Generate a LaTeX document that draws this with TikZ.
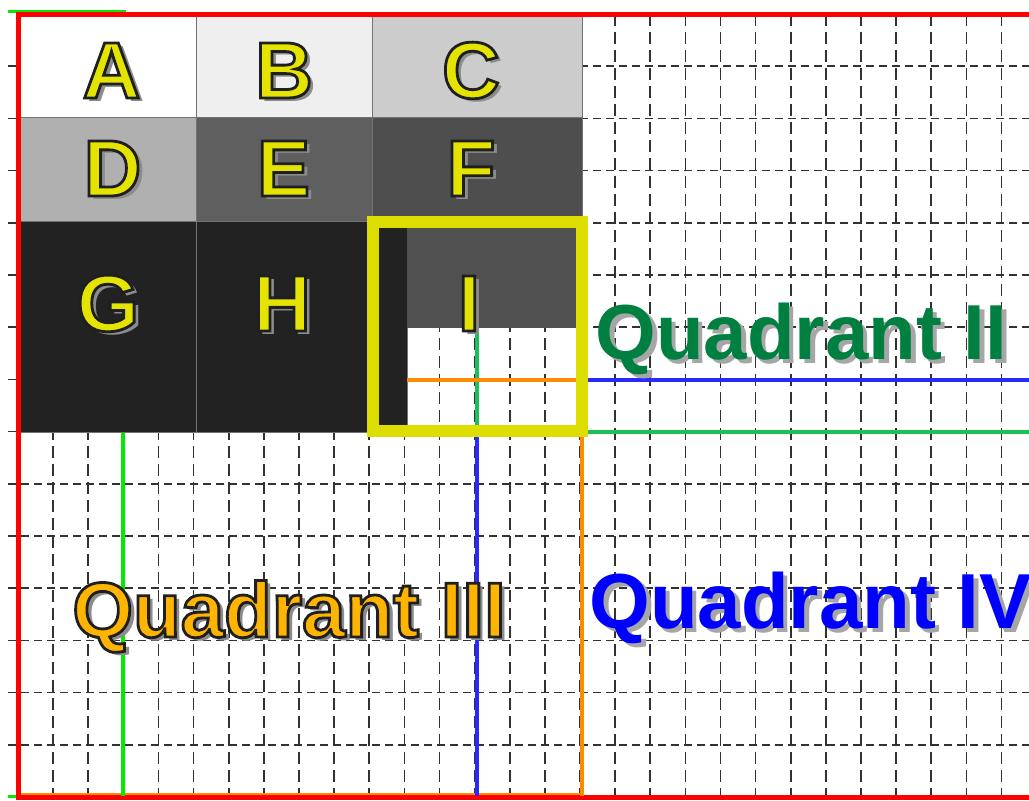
\documentclass[tikz,border=0pt]{standalone}
\usepackage{fontspec}
\setmainfont{Liberation Sans}
\definecolor{lyel}{RGB}{228,228,0}
\definecolor{fyel}{RGB}{221,221,0}
\definecolor{qgreen}{RGB}{0,128,64}
\definecolor{qblue}{RGB}{0,0,255}
\definecolor{qorange}{RGB}{255,180,0}
\definecolor{brgreen}{RGB}{0,235,0}
\definecolor{tgreen}{RGB}{30,190,90}
\definecolor{lorange}{RGB}{255,140,0}
\definecolor{lblue}{RGB}{40,40,255}
\definecolor{gridc}{RGB}{50,50,50}
\definecolor{cB}{RGB}{239,239,239}
\definecolor{cC}{RGB}{204,204,204}
\definecolor{cD}{RGB}{176,176,176}
\definecolor{cE}{RGB}{95,95,95}
\definecolor{cF}{RGB}{78,78,78}
\definecolor{cG}{RGB}{34,34,34}
\definecolor{cI}{RGB}{80,80,80}
\newcommand\outlined[1]{\special{pdf:literal direct 2 Tr 0.12 0.12 0.12 RG 1.4 w}#1\special{pdf:literal direct 0 Tr}}
\begin{document}
\begin{tikzpicture}[x=0.5pt,y=-0.5pt,
  vgrid/.style={draw=gridc, line width=0.8pt, dash pattern=on 6pt off 3pt},
  hgrid/.style={draw=gridc, line width=0.8pt, dash pattern=on 4pt off 2.5pt},
  cell/.style={draw=black!55, line width=0.5pt},
  lbl/.style={font=\fontsize{40}{40}\selectfont\bfseries, inner sep=0pt, anchor=base},
  qlbl/.style={font=\fontsize{39}{39}\selectfont\bfseries, inner sep=0pt, anchor=base west},
  shadow/.style={xshift=2.3pt, yshift=-2pt},
  bline/.style={line width=2pt}]
\useasboundingbox (0,0) rectangle (1029,801);
\fill[white] (0,0) rectangle (1029,801);
% grid
\foreach \k in {0,...,29} \draw[vgrid] ({18+35.125*\k},14) -- ({18+35.125*\k},797);
\foreach \k in {1,...,14} \draw[hgrid] (8,{14+52.2*\k}) -- (1029,{14+52.2*\k});
% cells
\path[cell, fill=white] (18,14) rectangle (196,118);
\path[cell, fill=cB] (196,14) rectangle (372,118);
\path[cell, fill=cC] (372,14) rectangle (582,118);
\path[cell, fill=cD] (18,118) rectangle (196,222);
\path[cell, fill=cE] (196,118) rectangle (372,222);
\path[cell, fill=cF] (372,118) rectangle (582,222);
\path[cell, fill=cG] (18,222) rectangle (196,433);
\path[cell, fill=cG] (196,222) rectangle (407,433);
\path[fill=cI] (407,222) rectangle (582,328);
% coloured lines
\draw[lorange, line width=1.4pt] (18,794.5) -- (582,794.5);
\draw[brgreen, line width=1.5pt] (8,11.5) -- (126,11.5);
\draw[brgreen, line width=1.5pt] (8,797) -- (18,797);
\draw[red, line width=2.5pt] (1029,14.5) -- (18,14.5) -- (18,797.5) -- (1029,797.5);
\draw[brgreen, bline] (123,433) -- (123,796);
\draw[lblue, bline] (587,380) -- (1029,380);
\draw[tgreen, bline] (587,432) -- (1029,432);
\draw[lblue, bline] (477,437) -- (477,796);
\draw[lorange, bline] (582,437) -- (582,796);
\draw[tgreen, line width=1.6pt] (477,328) -- (477,425);
\draw[lorange, line width=1.6pt] (407,380) -- (576,380);
% yellow frame
\draw[fyel, line width=6pt] (372.5,222) rectangle (581.5,431);
% letter shadows and letters
\foreach \nm/\px/\py in {A/111.5/98, B/284/98, C/471/98, D/112.5/196, E/283.5/196, F/471/196, G/108/331, H/282/331, I/469/331}{
  \node[lbl, text=black!45, shadow] (s\nm) at (\px,\py) {\nm};
  \node[lbl, text=lyel] (l\nm) at (\px,\py) {\outlined{\nm}};
}
% quadrant labels
\node[qlbl, text=black!35, shadow] (sq2) at (595,360) {Quadrant II};
\node[qlbl, text=qgreen] (q2) at (595,360) {Quadrant II};
\node[qlbl, text=black!35, shadow] (sq4) at (589,629) {Quadrant IV};
\node[qlbl, text=qblue] (q4) at (589,629) {Quadrant IV};
\node[qlbl, text=black!45, shadow] (sq3) at (72,637) {Quadrant III};
\node[qlbl, text=qorange] (q3) at (72,637) {\outlined{Quadrant III}};
\end{tikzpicture}
\end{document}
